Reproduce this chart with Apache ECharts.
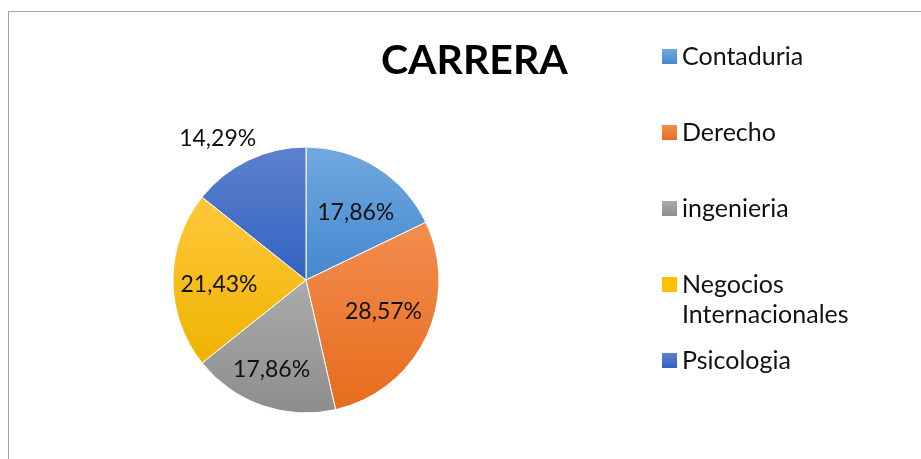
<!DOCTYPE html>
<html>
<head>
<meta charset="utf-8">
<script src="https://cdn.jsdelivr.net/npm/echarts@6/dist/echarts.min.js"></script>
<style>
  html, body { margin: 0; padding: 0; background: #fff; width: 921px; height: 459px; overflow: hidden; }
  #frame { position: absolute; left: 8px; top: 11px; width: 930px; height: 470px; border-top: 1px solid #a6a6a6; border-left: 1px solid #a0a0a0; }
  #chart { position: absolute; left: 0; top: 0; width: 921px; height: 459px; }
</style>
</head>
<body>
<div id="frame"></div>
<div id="chart"></div>
<script>
// Data
const categories = ['Contaduria', 'Derecho', 'ingenieria', 'Negocios Internacionales', 'Psicologia'];
const values = [17.86, 28.57, 17.86, 21.43, 14.29];
const titleText = 'CARRERA';

// Styles
const topColors = ['#71a8df', '#f38d50', '#ababab', '#ffc83c', '#5d81cd'];
const bottomColors = ['#4588cf', '#e76c1c', '#8d8d8d', '#eeb300', '#3262c1'];
const midColors = ['#5b98d7', '#ed7d31', '#a5a5a5', '#ffc000', '#4472c4'];
const labelOffsets = [[4, 5], [0, -6], [-6, 8], [-1, 5], [-51, -64]];
const FONT = 'Lato';

function grad(i) {
  return new echarts.graphic.LinearGradient(0, 0, 0, 1, [
    { offset: 0, color: topColors[i] },
    { offset: 1, color: bottomColors[i] }
  ]);
}
function fmt(v) { return v.toFixed(2).replace('.', ',') + '%'; }

const chart = echarts.init(document.getElementById('chart'), null, { renderer: 'canvas' });

const mainData = categories.map((c, i) => ({ name: c, value: values[i], itemStyle: { color: grad(i) } }));
const labelData = categories.map((c, i) => ({ name: c, value: values[i], label: { offset: labelOffsets[i] } }));

const legendBase = {
  orient: 'vertical', left: 662, padding: 0, itemWidth: 15, itemHeight: 15, icon: 'rect',
  itemGap: 46, selectedMode: false,
  itemStyle: { borderWidth: 0 },
  textStyle: { fontFamily: FONT, fontSize: 25, color: '#111', lineHeight: 30 }
};
const legItem = (i, extra) => Object.assign({ name: categories[i], itemStyle: { color: grad(i), borderWidth: 0 } }, extra || {});

const option = {
  animation: false,
  backgroundColor: 'transparent',
  title: {
    text: titleText, left: 381, top: 36, padding: 0,
    textStyle: { fontFamily: FONT, fontWeight: 'bold', fontSize: 41, color: '#000', lineHeight: 50 }
  },
  legend: [
    Object.assign({}, legendBase, { top: 41.5, data: [legItem(0), legItem(1), legItem(2)] }),
    Object.assign({}, legendBase, {
      top: 269.25, itemHeight: 45.5,
      formatter: n => n.replace(' ', '\n'),
      textStyle: { fontFamily: FONT, fontSize: 25, color: '#111', lineHeight: 30.5 },
      data: [legItem(3, { icon: 'path://M0,0H15V15H0Z M0,45.5L15,45.5', itemStyle: { color: midColors[3], borderWidth: 0 } })]
    }),
    Object.assign({}, legendBase, { top: 345.5, data: [legItem(4)] })
  ],
  series: [
    {
      type: 'pie', center: [306, 280], radius: [0, 133], startAngle: 90, clockwise: true,
      silent: true, label: { show: false }, labelLine: { show: false },
      itemStyle: { borderColor: '#fff', borderWidth: 1 },
      data: mainData
    },
    {
      type: 'pie', center: [306, 280], radius: [0, 166], startAngle: 90, clockwise: true,
      silent: true, z: 5,
      itemStyle: { color: 'rgba(0,0,0,0)', borderWidth: 0 },
      label: {
        show: true, position: 'inside', fontFamily: FONT, fontSize: 23, color: '#111',
        formatter: p => fmt(p.value)
      },
      labelLine: { show: false },
      emphasis: { disabled: true },
      data: labelData
    }
  ]
};
chart.setOption(option);
</script>
</body>
</html>
